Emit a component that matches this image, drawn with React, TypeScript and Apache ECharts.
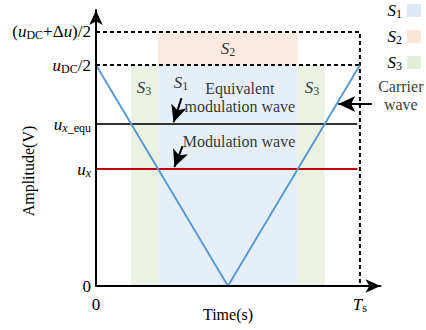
import React, { useEffect, useRef } from 'react';
import * as echarts from 'echarts';

const FONT = "'Liberation Serif', 'Times New Roman', serif";

// Axis ticks (y in units of u_DC/2, x in units of Ts)
const yTickValues = [0, 0.529, 0.733, 1, 1.15];
const yTickLabels = [
  '{n|0}',
  '{i|u}{si|x}',
  '{i|u}{si|x}{s|_equ}',
  '{i|u}{s|DC}{n|/2}',
  '{n|(}{i|u}{s|DC}{n|+Δ}{i|u}{n|)/2}',
];
const xTickValues = [0, 1];
const xTickLabels = ['{n|0}', '{i|T}{s|s}'];

// Waves
const carrierX = [0, 0.5, 1];
const carrierY = [1, 0, 1];
const uxEqu = 0.733;
const ux = 0.529;
const lineEndX = 0.99;
const topLevel = 1.15;
const halfLevel = 1;
const periodEnd = 1;

// Regions
const s1Range = [0.2355, 0.7645];
const s2Range = [0.2355, 0.7645];
const s3Ranges = [
  [0.1335, 0.2355],
  [0.7645, 0.8665],
];

// Annotations
const annotationTexts = [
  '{i|S}{s|2}',
  '{i|S}{s|3}',
  '{i|S}{s|1}',
  '{t|Equivalent}\n{t|modulation wave}',
  '{t|Modulation wave}',
  '{i|S}{s|3}',
  '{t|Carrier}\n{t|wave}',
];
const annotationX = [0.5, 0.182, 0.322, 0.545, 0.542, 0.818, 1.155];
const annotationY = [1.077, 0.9, 0.923, 0.851, 0.652, 0.9, 0.864];

// Arrows (start -> tip)
const arrowStartX = [0.324, 0.328, 1.045];
const arrowStartY = [0.85, 0.633, 0.824];
const arrowEndX = [0.294, 0.297, 0.918];
const arrowEndY = [0.741, 0.538, 0.824];

const legendNames = ['S1', 'S2', 'S3'];

const BLUE_FILL = '#E6EEF8';
const ORANGE_FILL = '#FBEADF';
const GREEN_FILL = '#EBF1E3';
const BLUE_LEG = '#DDE8F5';
const ORANGE_LEG = '#FBE5D6';
const GREEN_LEG = '#E3EEDA';
const CARRIER = '#5B9BD5';
const RED = '#C00000';

const rich = {
  n: { fontFamily: FONT, fontSize: 17, color: '#000', lineHeight: 19 },
  i: { fontFamily: FONT, fontSize: 17, fontStyle: 'italic', color: '#000', lineHeight: 19 },
  t: { fontFamily: FONT, fontSize: 16, color: '#000', lineHeight: 18 },
  s: { fontFamily: FONT, fontSize: 12, color: '#000', lineHeight: 12, verticalAlign: 'bottom' },
  si: { fontFamily: FONT, fontSize: 12, fontStyle: 'italic', color: '#000', lineHeight: 12, verticalAlign: 'bottom' },
};

export default function App() {
  const ref = useRef<HTMLDivElement>(null);
  useEffect(() => {
    if (!ref.current) return;
    const chart = echarts.init(ref.current, undefined, { renderer: 'svg' });
    const dashed = { color: '#000', width: 2, type: [4, 3] as any };
    const option: any = {
      animation: false,
      backgroundColor: '#fff',
      grid: { left: 96, top: 10, right: 45.5, bottom: 44, outerBoundsMode: 'none', containLabel: false },
      legend: {
        data: legendNames,
        orient: 'vertical',
        right: 5,
        top: 2,
        padding: 0,
        align: 'right',
        icon: 'rect',
        itemWidth: 14,
        itemHeight: 13,
        itemGap: 8,
        formatter: (name: string) => `{i|S}{s|${name.slice(1)}}`,
        textStyle: { rich },
        selectedMode: false,
      },
      xAxis: {
        type: 'value',
        min: 0,
        max: 1.078,
        z: 10,
        splitLine: { show: false },
        axisTick: { show: false },
        axisLine: { show: true, symbol: ['none', 'arrow'], symbolSize: [10, 15], lineStyle: { color: '#000', width: 2 } },
        axisLabel: {
          customValues: xTickValues,
          margin: 9,
          formatter: (v: number) => xTickLabels[xTickValues.indexOf(v)] ?? '',
          rich,
        },
      },
      yAxis: {
        type: 'value',
        min: 0,
        max: 1.249,
        z: 10,
        splitLine: { show: false },
        axisTick: { show: false },
        axisLine: { show: true, symbol: ['none', 'arrow'], symbolSize: [10, 15], lineStyle: { color: '#000', width: 2 } },
        axisLabel: {
          customValues: yTickValues,
          margin: 5,
          formatter: (v: number) => yTickLabels[yTickValues.indexOf(v)] ?? '',
          rich,
        },
      },
      graphic: [
        { type: 'text', x: 228, y: 314, style: { text: 'Time(s)', font: `16px ${FONT}`, fill: '#000', align: 'center', verticalAlign: 'middle' } },
        { type: 'text', x: 28, y: 171, rotation: Math.PI / 2, style: { text: 'Amplitude(V)', font: `16px ${FONT}`, fill: '#000', align: 'center', verticalAlign: 'middle' } },
      ],
      series: [
        {
          name: 'S1', type: 'line', data: [], color: BLUE_LEG,
          itemStyle: { color: BLUE_LEG }, lineStyle: { color: BLUE_LEG },
          markArea: { silent: true, itemStyle: { color: BLUE_FILL }, data: [[{ coord: [s1Range[0], 0] }, { coord: [s1Range[1], halfLevel] }]] },
        },
        {
          name: 'S2', type: 'line', data: [], color: ORANGE_LEG,
          itemStyle: { color: ORANGE_LEG }, lineStyle: { color: ORANGE_LEG },
          markArea: { silent: true, itemStyle: { color: ORANGE_FILL }, data: [[{ coord: [s2Range[0], halfLevel] }, { coord: [s2Range[1], topLevel] }]] },
        },
        {
          name: 'S3', type: 'line', data: [], color: GREEN_LEG,
          itemStyle: { color: GREEN_LEG }, lineStyle: { color: GREEN_LEG },
          markArea: {
            silent: true, itemStyle: { color: GREEN_FILL },
            data: s3Ranges.map((r) => [{ coord: [r[0], 0] }, { coord: [r[1], halfLevel] }]),
          },
        },
        {
          type: 'line', symbol: 'none', lineStyle: dashed, z: 3,
          data: [[0, topLevel], [periodEnd, topLevel], [periodEnd, 0]],
        },
        {
          type: 'line', symbol: 'none', lineStyle: dashed, z: 3,
          data: [[0, halfLevel], [periodEnd, halfLevel]],
        },
        {
          type: 'line', symbol: 'none', lineStyle: { color: '#333', width: 2 }, z: 4,
          data: [[0, uxEqu], [lineEndX, uxEqu]],
        },
        {
          type: 'line', symbol: 'none', lineStyle: { color: RED, width: 2 }, z: 4,
          data: [[0, ux], [lineEndX, ux]],
        },
        {
          type: 'line', symbol: 'none', lineStyle: { color: CARRIER, width: 2 }, z: 5,
          data: carrierX.map((x, i) => [x, carrierY[i]]),
        },
        {
          type: 'line', data: [], clip: false, z: 6,
          markLine: {
            silent: true,
            label: { show: false },
            lineStyle: { color: '#000', width: 2, type: 'solid' },
            data: arrowStartX.map((x, i) => [
              { coord: [x, arrowStartY[i]], symbol: 'none' },
              { coord: [arrowEndX[i], arrowEndY[i]], symbol: 'arrow', symbolSize: [12, 17] },
            ]),
          },
        },
        {
          type: 'scatter', symbolSize: 0, clip: false, z: 7, silent: true,
          data: annotationTexts.map((t, i) => ({
            value: [annotationX[i], annotationY[i]],
            label: { show: true, position: 'inside', formatter: t, rich, align: 'center' },
          })),
        },
      ],
    };
    chart.setOption(option);
    return () => chart.dispose();
  }, []);
  return <div ref={ref} style={{ position: 'fixed', left: 0, top: 0, width: 426, height: 330, background: '#fff' }} />;
}
